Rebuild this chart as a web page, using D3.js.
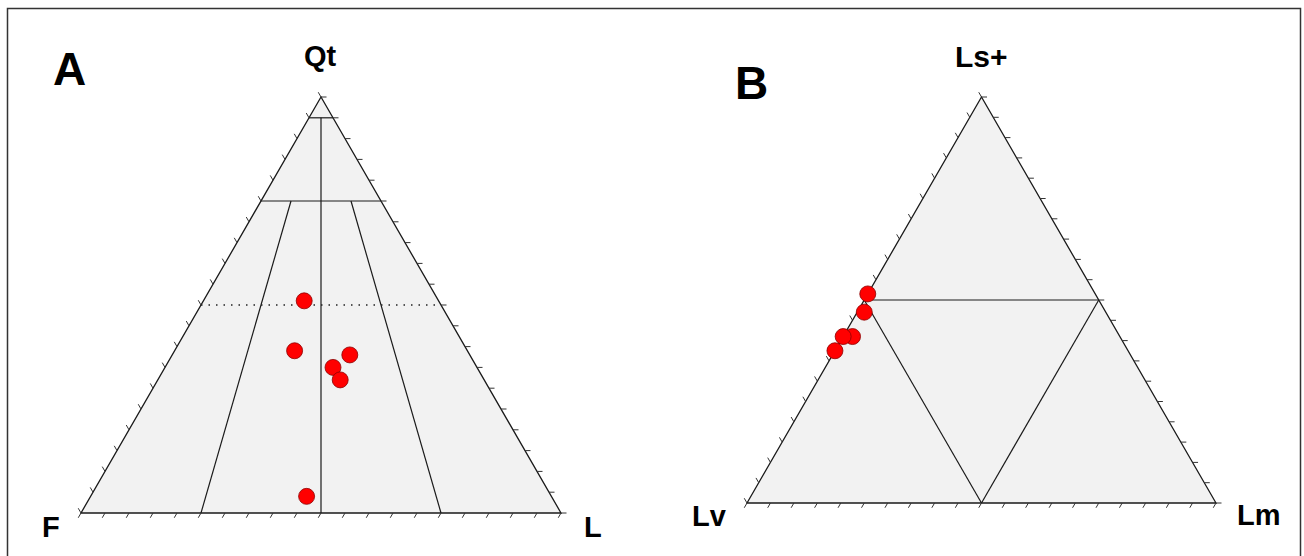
<!DOCTYPE html>
<html>
<head>
<meta charset="utf-8">
<script src="https://cdn.jsdelivr.net/npm/d3@7"></script>
<style>
  body { margin: 0; background: #fff; }
  text { font-family: "Liberation Sans", Arial, sans-serif; font-weight: bold; fill: #000; }
</style>
</head>
<body>
<script>
// panel A: Qt-F-L (fractions)
const qtA = [0.51, 0.39, 0.38, 0.35, 0.32, 0.04];
const fA  = [0.28, 0.36, 0.25, 0.30, 0.30, 0.51];
const lA  = [0.21, 0.25, 0.37, 0.35, 0.38, 0.45];

// panel B: Ls+-Lv-Lm (fractions)
const lsB = [0.515, 0.47, 0.41, 0.41, 0.375];
const lvB = [0.485, 0.515, 0.57, 0.59, 0.625];
const lmB = [0.0, 0.015, 0.02, 0.0, 0.0];

// field boundaries, [top, left, right] pairs
const fieldsA = [
  [[0.95, 0.05, 0], [0.95, 0, 0.05]],
  [[0.75, 0.25, 0], [0.75, 0, 0.25]],
  [[0.95, 0.025, 0.025], [0, 0.5, 0.5]],
  [[0.75, 0.1875, 0.0625], [0, 0.75, 0.25]],
  [[0.75, 0.0625, 0.1875], [0, 0.25, 0.75]]
];
const dottedA = [[[0.5, 0.5, 0], [0.5, 0, 0.5]]];
const fieldsB = [
  [[0.5, 0.5, 0], [0.5, 0, 0.5]],
  [[0.5, 0.5, 0], [0, 0.5, 0.5]],
  [[0.5, 0, 0.5], [0, 0.5, 0.5]]
];

const ticks = d3.range(0, 21).map(i => i / 20);

const width = 1304, height = 556;
const svg = d3.select('body').append('svg')
    .attr('width', width)
    .attr('height', height);

svg.append('rect')
    .attr('x', 7.5).attr('y', 8.5)
    .attr('width', 1293).attr('height', 580)
    .attr('fill', 'none')
    .attr('stroke', '#333')
    .attr('stroke-width', 1.5);

function ternary(xr, yr, fields, dotted, pts) {
  const x = d3.scaleLinear().domain([0, 1]).range(xr);
  const y = d3.scaleLinear().domain([0, 1]).range(yr);
  // p = [top, left, right]
  const pos = p => [x(p[2] + p[0] / 2), y(p[0])];
  const g = svg.append('g');
  const corners = [[1, 0, 0], [0, 1, 0], [0, 0, 1]].map(pos);

  g.append('path')
      .attr('d', 'M' + corners.join('L') + 'Z')
      .attr('fill', '#f2f2f2')
      .attr('stroke', '#1a1a1a')
      .attr('stroke-width', 1.3);

  const line = d3.line();
  g.selectAll('.field')
      .data(fields)
      .enter()
      .append('path')
      .attr('d', d => line(d.map(pos)))
      .attr('stroke', '#1a1a1a')
      .attr('stroke-width', 1.2)
      .attr('fill', 'none');

  g.selectAll('.dotted')
      .data(dotted)
      .enter()
      .append('path')
      .attr('d', d => line(d.map(pos)))
      .attr('stroke', '#222')
      .attr('stroke-width', 1.5)
      .attr('stroke-dasharray', '1.5,6')
      .attr('fill', 'none');

  const tl = 5.5;
  const s = Math.sqrt(3) / 2;
  // base ticks: down-left
  g.selectAll('.tb').data(ticks).enter().append('line')
      .attr('x1', t => pos([0, 1 - t, t])[0])
      .attr('y1', t => pos([0, 1 - t, t])[1])
      .attr('x2', t => pos([0, 1 - t, t])[0] - tl * 0.5)
      .attr('y2', t => pos([0, 1 - t, t])[1] + tl * s)
      .attr('stroke', '#333').attr('stroke-width', 1);
  // right side ticks: horizontal right
  g.selectAll('.tr').data(ticks).enter().append('line')
      .attr('x1', t => pos([t, 0, 1 - t])[0])
      .attr('y1', t => pos([t, 0, 1 - t])[1])
      .attr('x2', t => pos([t, 0, 1 - t])[0] + tl)
      .attr('y2', t => pos([t, 0, 1 - t])[1])
      .attr('stroke', '#333').attr('stroke-width', 1);
  // left side ticks: up-left
  g.selectAll('.tlft').data(ticks).enter().append('line')
      .attr('x1', t => pos([t, 1 - t, 0])[0])
      .attr('y1', t => pos([t, 1 - t, 0])[1])
      .attr('x2', t => pos([t, 1 - t, 0])[0] - tl * 0.5)
      .attr('y2', t => pos([t, 1 - t, 0])[1] - tl * s)
      .attr('stroke', '#333').attr('stroke-width', 1);

  g.selectAll('circle')
      .data(pts)
      .enter()
      .append('circle')
      .attr('cx', d => pos(d)[0])
      .attr('cy', d => pos(d)[1])
      .attr('r', 8)
      .attr('fill', '#ff0000')
      .attr('stroke', '#8b0000')
      .attr('stroke-width', 0.8);
}

ternary([81, 561], [513, 97], fieldsA, dottedA,
  qtA.map((d, i) => [d, fA[i], lA[i]]));
ternary([747, 1216], [503, 97], fieldsB, [],
  lsB.map((d, i) => [d, lvB[i], lmB[i]]));

const labels = [
  {t: 'A', x: 53, y: 85, s: 46},
  {t: 'B', x: 735, y: 99, s: 46},
  {t: 'Qt', x: 304, y: 66, s: 29},
  {t: 'F', x: 42, y: 537, s: 29},
  {t: 'L', x: 584, y: 537, s: 29},
  {t: 'Ls+', x: 955, y: 67, s: 30},
  {t: 'Lv', x: 692, y: 526, s: 29},
  {t: 'Lm', x: 1237, y: 525, s: 29}
];
svg.selectAll('.lbl')
    .data(labels)
    .enter()
    .append('text')
    .attr('x', d => d.x)
    .attr('y', d => d.y)
    .attr('font-size', d => d.s)
    .text(d => d.t);
</script>
</body>
</html>
